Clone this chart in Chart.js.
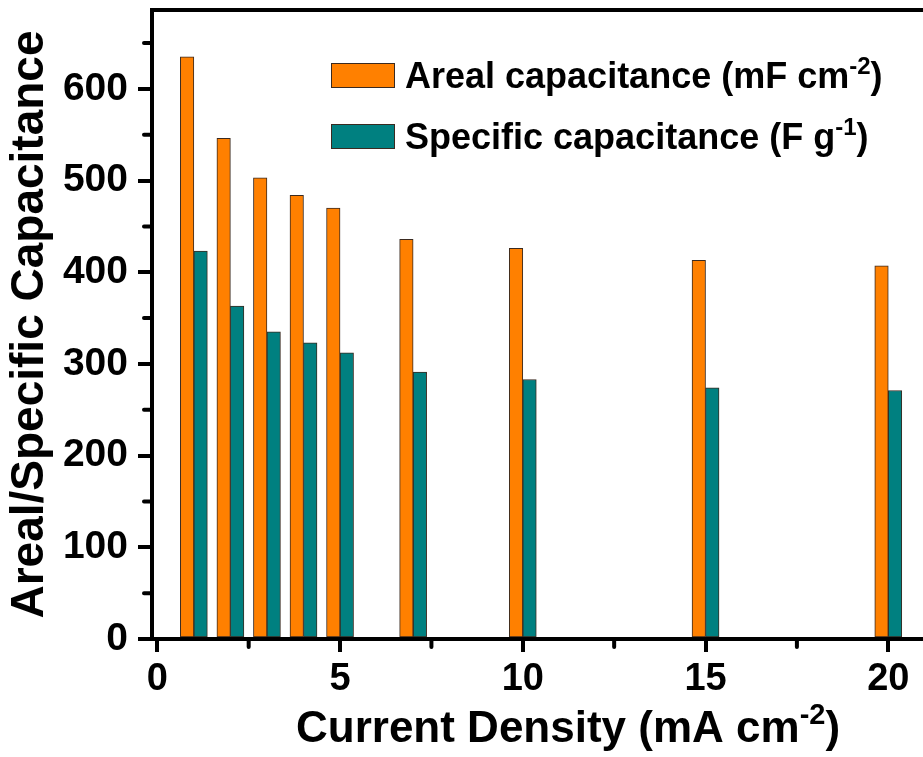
<!DOCTYPE html>
<html>
<head>
<meta charset="utf-8">
<script src="https://cdn.jsdelivr.net/npm/chart.js@4.4.0/dist/chart.umd.min.js"></script>
<style>
  html, body { margin: 0; padding: 0; background: #fff; }
  canvas { display: block; }
</style>
</head>
<body>
<canvas id="capChart" width="923" height="757"></canvas>
<script>
// values
const currentDensity = [1, 2, 3, 4, 5, 7, 10, 15, 20];
const arealCapacitance = [635, 546, 503, 484, 470, 436, 426, 413, 407];
const specificCapacitance = [423, 363, 335, 323, 312, 291, 283, 274, 271];

const xMajorTicks = [0, 5, 10, 15, 20];
const yMajorTicks = [0, 100, 200, 300, 400, 500, 600];

const FONT = "'Liberation Sans', Arial, sans-serif";
const ORANGE = '#FF8000';
const TEAL = '#008080';
const EDGE = '#3a2a20';

// legend / axis title text with superscripts
const legendParts = [
    [{ text: 'Areal capacitance (mF cm' }, { text: '-2', sup: true }, { text: ')' }],
    [{ text: 'Specific capacitance (F g' }, { text: '-1', sup: true }, { text: ')' }]
];
const xTitleParts = [{ text: 'Current Density (mA cm' }, { text: '-2', sup: true }, { text: ')' }];

function drawRich(ctx, parts, x, y, size, supSize, rise) {
    let cx = x;
    parts.forEach(p => {
        ctx.font = `bold ${p.sup ? supSize : size}px ${FONT}`;
        ctx.fillText(p.text, cx, p.sup ? y - rise : y);
        cx += ctx.measureText(p.text).width;
    });
}

const isMajor = (list, v) => list.includes(v);

const decorPlugin = {
    id: 'decor',
    afterDraw(chart) {
        const { ctx, chartArea } = chart;
        const xs = chart.scales.x, ys = chart.scales.y;
        ctx.save();

        // top frame line
        ctx.strokeStyle = '#000';
        ctx.lineWidth = 4;
        ctx.lineCap = 'square';
        ctx.beginPath();
        ctx.moveTo(chartArea.left, chartArea.top);
        ctx.lineTo(chartArea.right, chartArea.top);
        ctx.stroke();

        // short minor ticks
        ctx.lineCap = 'round';
        ctx.beginPath();
        xs.ticks.forEach(t => {
            if (isMajor(xMajorTicks, t.value)) return;
            const px = xs.getPixelForValue(t.value);
            ctx.moveTo(px, chartArea.bottom);
            ctx.lineTo(px, chartArea.bottom + 8);
        });
        ys.ticks.forEach(t => {
            if (isMajor(yMajorTicks, t.value)) return;
            const py = ys.getPixelForValue(t.value);
            ctx.moveTo(chartArea.left, py);
            ctx.lineTo(chartArea.left - 8, py);
        });
        ctx.stroke();

        ctx.fillStyle = '#000';
        ctx.textAlign = 'left';
        ctx.textBaseline = 'alphabetic';

        // legend
        chart.data.datasets.forEach((ds, i) => {
            const top = 63 + i * 61;
            ctx.fillStyle = ds.backgroundColor;
            ctx.fillRect(331, top, 64, 25);
            ctx.strokeStyle = EDGE;
            ctx.lineWidth = 1;
            ctx.strokeRect(331.5, top + 0.5, 63, 24);
            ctx.fillStyle = '#000';
            drawRich(ctx, legendParts[i], 405, top + 25, 36, 24, 14);
        });

        // x axis title
        drawRich(ctx, xTitleParts, 296, 742, 44, 29, 18);

        ctx.restore();
    }
};

const ctx = document.getElementById('capChart').getContext('2d');
new Chart(ctx, {
    type: 'bar',
    data: {
        datasets: [
            {
                label: 'Areal capacitance (mF cm-2)',
                data: currentDensity.map((x, i) => ({ x: x, y: arealCapacitance[i] })),
                backgroundColor: ORANGE,
                borderColor: EDGE,
                borderWidth: 1,
                borderSkipped: false,
                barThickness: 13.5
            },
            {
                label: 'Specific capacitance (F g-1)',
                data: currentDensity.map((x, i) => ({ x: x, y: specificCapacitance[i] })),
                backgroundColor: TEAL,
                borderColor: EDGE,
                borderWidth: 1,
                borderSkipped: false,
                barThickness: 13.5
            }
        ]
    },
    options: {
        responsive: false,
        animation: false,
        devicePixelRatio: 1,
        layout: { padding: { top: 10, left: 0, right: 0, bottom: 0 } },
        plugins: {
            legend: { display: false },
            tooltip: { enabled: false }
        },
        scales: {
            x: {
                type: 'linear',
                min: -0.145,
                max: 20.95,
                offset: false,
                grid: {
                    drawOnChartArea: false,
                    offset: false,
                    lineWidth: 4,
                    tickLength: 13,
                    tickWidth: 4,
                    tickColor: c => isMajor(xMajorTicks, c.tick.value) ? '#000' : 'rgba(0,0,0,0)'
                },
                border: { display: true, width: 4, color: '#000' },
                ticks: {
                    stepSize: 2.5,
                    includeBounds: false,
                    autoSkip: false,
                    maxRotation: 0,
                    padding: 5,
                    color: '#000',
                    font: { family: FONT, size: 38, weight: 'bold' },
                    callback: v => isMajor(xMajorTicks, v) ? String(v) : ''
                },
                afterFit: s => { s.height = 118; s.paddingLeft = 0; s.paddingRight = 0; }
            },
            y: {
                min: 0,
                max: 686,
                grid: {
                    drawOnChartArea: false,
                    lineWidth: 4,
                    tickLength: 14,
                    tickWidth: 4,
                    tickColor: c => isMajor(yMajorTicks, c.tick.value) ? '#000' : 'rgba(0,0,0,0)'
                },
                border: { display: true, width: 4, color: '#000' },
                ticks: {
                    stepSize: 50,
                    includeBounds: false,
                    autoSkip: false,
                    maxTicksLimit: 100,
                    padding: 10,
                    color: '#000',
                    font: { family: FONT, size: 39, weight: 'bold' },
                    callback: v => isMajor(yMajorTicks, v) ? String(v) : ''
                },
                title: {
                    display: true,
                    text: 'Areal/Specific Capacitance',
                    color: '#000',
                    font: { family: FONT, size: 46, weight: 'bold', lineHeight: 1 },
                    padding: { top: 7, bottom: 0 }
                },
                afterFit: s => { s.width = 152; s.paddingTop = 0; s.paddingBottom = 0; }
            }
        }
    },
    plugins: [decorPlugin]
});
</script>
</body>
</html>
